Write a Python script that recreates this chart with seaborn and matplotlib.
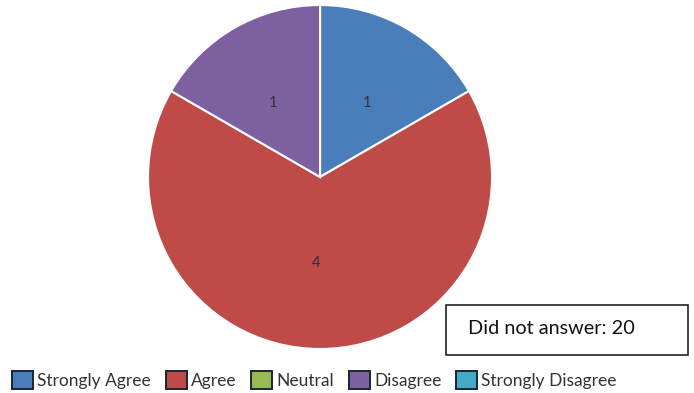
import matplotlib
matplotlib.use("Agg")
import matplotlib.pyplot as plt
from matplotlib.patches import Patch
import seaborn as sns

# Survey responses
categories = ["Strongly Agree", "Agree", "Neutral", "Disagree", "Strongly Disagree"]
counts = [1, 4, 0, 1, 0]
no_answer = 20

colors = ["#4A7EBB", "#BE4B48", "#98B954", "#7D60A0", "#46AAC5"]

sns.set_theme(style="white")
plt.rcParams["font.family"] = ["Lato", "DejaVu Sans"]

fig = plt.figure(figsize=(6.94, 3.93), dpi=100)
ax = fig.add_axes([0.2133, 0.112, 0.4957, 0.8753])

labels = [str(c) if c else "" for c in counts]
wedges, texts = ax.pie(
    counts,
    labels=labels,
    colors=colors,
    startangle=90,
    counterclock=False,
    labeldistance=0.5,
    radius=1.0,
    wedgeprops=dict(edgecolor="white", linewidth=1.5),
    textprops=dict(color="#333333", fontsize=10.5),
)
for w, c in zip(wedges, counts):
    if c == 0:
        w.set_visible(False)
ax.set_xlim(-1.0, 1.0)
ax.set_ylim(-1.0, 1.0)
ax.set_aspect("equal")
ax.axis("off")

# Note about missing responses
fig.text(
    468 / 694, 1 - 329 / 393, f"Did not answer: {no_answer}",
    fontsize=14.3, color="#111111", va="center", ha="left",
)
box = plt.Rectangle((446 / 694, 1 - 355 / 393), (688 - 446) / 694, 50 / 393,
                    transform=fig.transFigure, fill=False, edgecolor="#222222",
                    linewidth=1.2)
fig.add_artist(box)

handles = [Patch(facecolor=col, edgecolor="#1a2533", linewidth=1.4) for col in colors]
fig.legend(
    handles, categories,
    loc="center left", bbox_to_anchor=(0.0, 1 - 380 / 393),
    ncol=5, frameon=False, fontsize=12.5,
    handlelength=1.2, handleheight=1.2, handletextpad=0.25,
    columnspacing=0.85, labelcolor="#333333", borderpad=0.2,
)

fig.savefig("out.png", dpi=100)
